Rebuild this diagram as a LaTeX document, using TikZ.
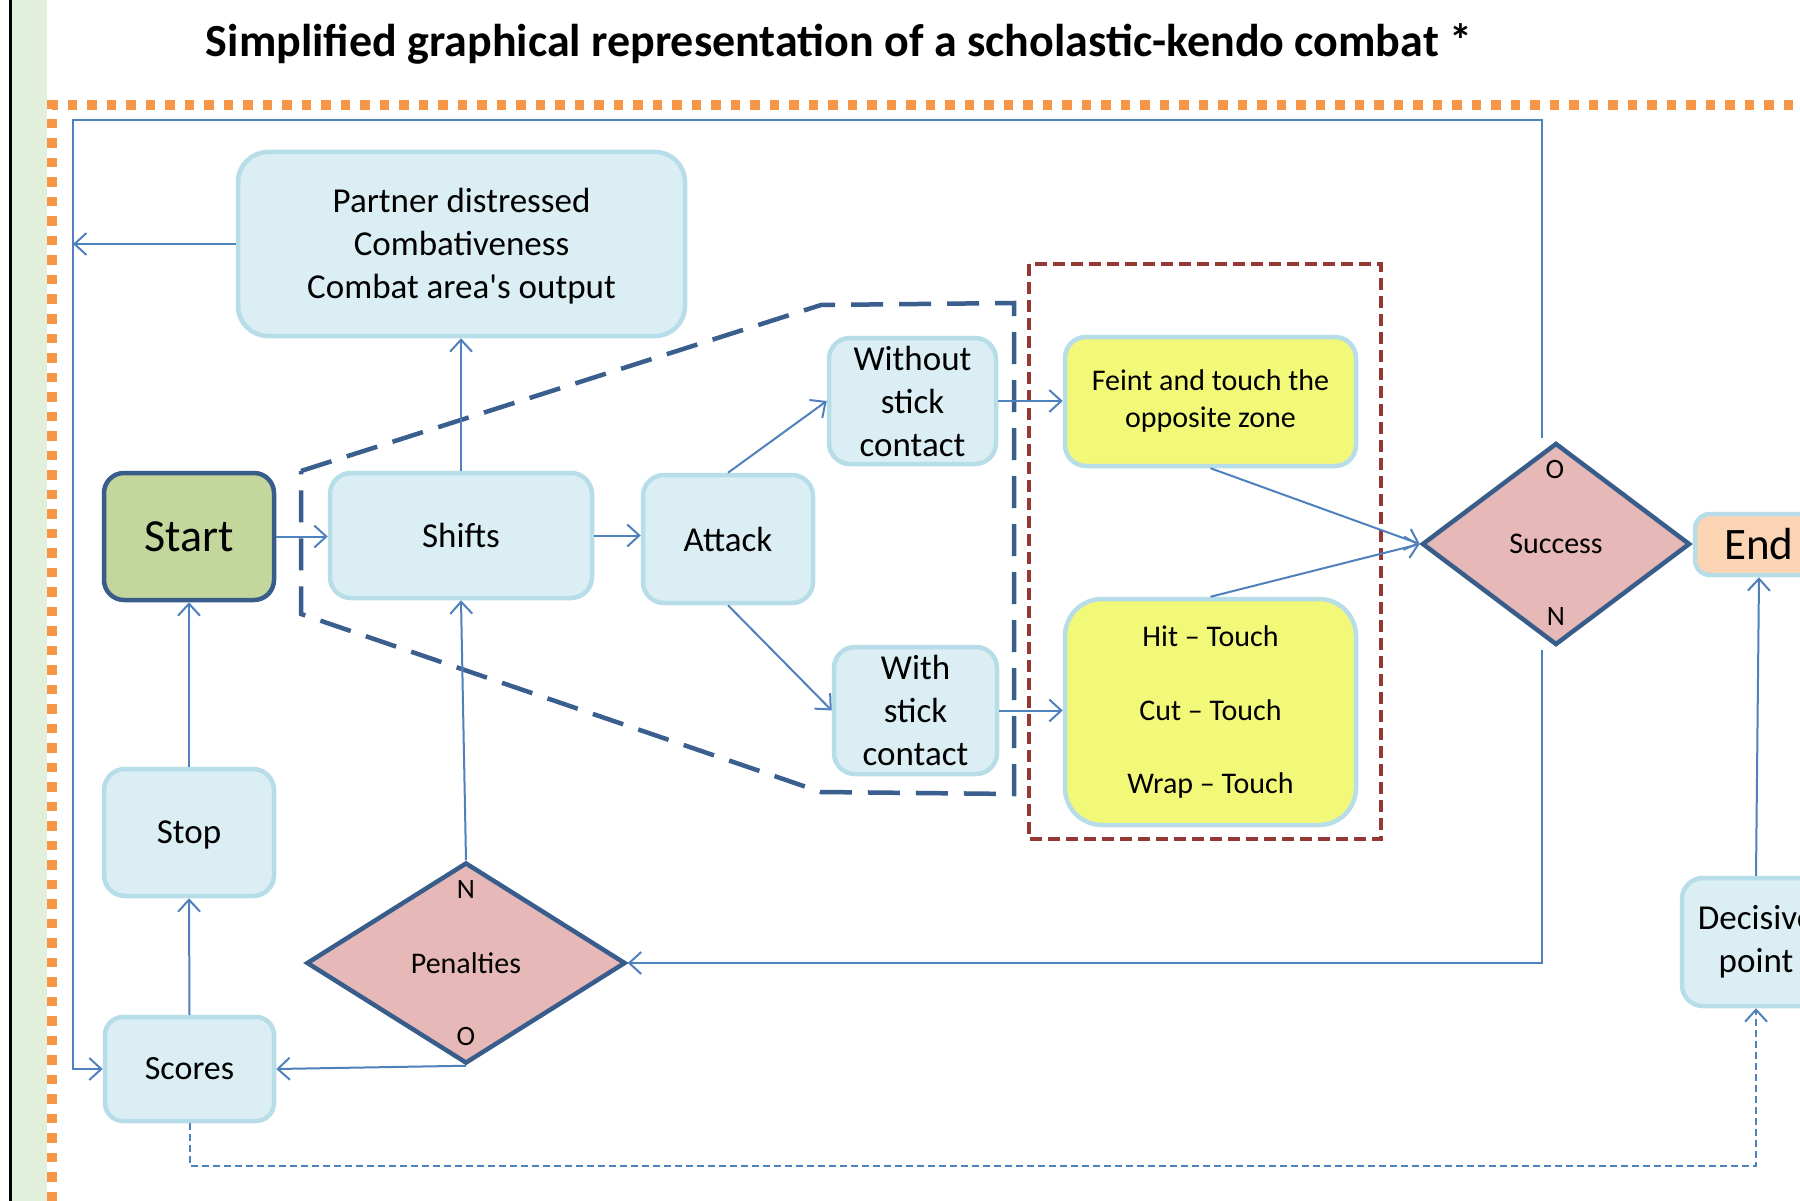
\documentclass[tikz,border=0pt]{standalone}
\usepackage{fontspec}
\setmainfont{Carlito}
\newfontfamily\apofont{Carlito}
\usetikzlibrary{arrows.meta,shapes.geometric}
\definecolor{boxfill}{HTML}{DAEEF3}
\definecolor{boxline}{HTML}{B7DDE8}
\definecolor{darkline}{HTML}{385D8A}
\definecolor{startfill}{HTML}{C3D69B}
\definecolor{yell}{HTML}{F2F978}
\definecolor{pinkfill}{HTML}{E6B9B8}
\definecolor{peach}{HTML}{FBD4B4}
\definecolor{conn}{HTML}{4F81BD}
\definecolor{stripe}{HTML}{E2EFDA}
\definecolor{orng}{HTML}{F79646}
\definecolor{darkred}{HTML}{953735}
\definecolor{polyblue}{HTML}{3A5F8E}
\newcommand\fsz[2]{\fontsize{#1}{#2}\selectfont}
\begin{document}
\begin{tikzpicture}[x=1pt,y=-1pt,
  box/.style={draw=boxline, fill=boxfill, line width=4.5pt, rounded corners=#1, inner sep=0pt, align=center, font=\fsz{35}{43}},
  box/.default=21pt,
  dia/.style={diamond, draw=darkline, fill=pinkfill, line width=4.5pt, inner sep=0pt, font=\fsz{30}{36}},
  lab/.style={inner sep=0pt, font=\fsz{28}{34}},
  arr/.style={draw=conn, line width=2pt, -{Straight Barb[length=12pt,width=22pt]}},
  dasharr/.style={arr, dash pattern=on 7pt off 4pt},
  ]
\useasboundingbox (0,0) rectangle (1800,1201);
\clip (0,0) rectangle (1800,1201);
\fill[white] (0,0) rectangle (1800,1201);
% left margin decorations
\fill[stripe] (12,0) rectangle (47,1201);
\draw[line width=3pt] (10.5,0) -- (10.5,1201);
\draw[orng, line width=9.5pt, dash pattern=on 9.5pt off 10pt] (52,1201) -- (52,105) -- (1800,105);
% title
\node[anchor=base, inner sep=0pt, font=\fsz{46}{55}\bfseries] (title) at (839,57) {Simplified graphical representation of a scholastic-kendo combat *};
% grouping frames
\draw[polyblue, line width=4.5pt, dash pattern=on 32pt off 16pt] (301,471) -- (821,305) -- (1014,303) -- (1014,794) -- (821,792) -- (301,614) -- cycle;
\draw[darkred, line width=4.5pt, dash pattern=on 12pt off 6pt] (1029,264) rectangle (1381,839);
% nodes
\node[box=30pt, minimum width=447pt, minimum height=184pt] (partner) at (461.5,244) {\rule{0pt}{28pt}Partner distressed\\Combativeness\\Combat area{\apofont'}s output};
\node[box=20pt, draw=darkline, fill=startfill, minimum width=170pt, minimum height=127pt, font=\fsz{46}{55}] (start) at (189,536.5) {Start};
\node[box, minimum width=262pt, minimum height=125pt] (shifts) at (461,535.5) {Shifts};
\node[box, minimum width=170pt, minimum height=128pt] (attack) at (728,539) {Attack};
\node[box, minimum width=167pt, minimum height=126pt] (without) at (912.5,401) {Without\\stick\\contact};
\node[box, minimum width=163pt, minimum height=127pt] (with) at (915.5,710.5) {With\\stick\\contact};
\node[box, fill=yell, minimum width=291pt, minimum height=129pt, font=\fsz{30}{37}] (feint) at (1210.5,401.5) {Feint and touch the\\opposite zone};
\node[box=37pt, fill=yell, minimum width=291pt, minimum height=226pt, font=\fsz{30}{73.5}] (hit) at (1210.5,712) {Hit – Touch\\Cut – Touch\\Wrap – Touch};
\node[dia, minimum width=268pt, minimum height=202pt] (success) at (1556,544) {Success};
\node[lab] (sO) at (1555,470) {O};
\node[lab] (sN) at (1556,617) {N};
\node[box=15pt, fill=peach, minimum width=128pt, minimum height=61pt, font=\fsz{45}{54}] (end) at (1759,544.5) {End};
\node[box, minimum width=148pt, minimum height=128pt] (decisive) at (1756,942) {Decisive\\point};
\node[box, minimum width=170pt, minimum height=127pt] (stop) at (189,832.5) {\rule{0pt}{28pt}Stop};
\node[box=18pt, minimum width=169pt, minimum height=104pt, font=\fsz{34}{40}] (scores) at (189.5,1069) {Scores};
\node[dia, minimum width=319pt, minimum height=201pt] (penalties) at (466,963) {Penalties};
\node[lab] (pN) at (466,890) {N};
\node[lab] (pO) at (466,1037) {O};
% helper coordinates
\coordinate (tl) at (73,120);
\coordinate (tr) at (1542,120);
\coordinate (sTop) at (1542,438);
\coordinate (sBot) at (1542,650);
\coordinate (dbot) at (1000,1166);
% connectors
\draw[arr] (start.east) -- (start.east -| shifts.west);
\draw[arr] (shifts.north) -- (shifts.north |- partner.south);
\draw[arr] (shifts.east) -- (shifts.east -| attack.west);
\draw[arr] (attack.north) -- (without.west);
\draw[arr] (attack.south) -- (with.west);
\draw[arr] (without.east) -- (without.east -| feint.west);
\draw[arr] (with.east) -- (with.east -| hit.west);
\draw[arr] (feint.south) -- (success.west);
\draw[arr] (hit.north) -- (success.west);
\draw[arr] (sTop) -- (tr) -- (tl) |- (scores.west);
\draw[arr] (partner.west) -- (partner.west -| tl);
\draw[arr] (sBot) |- (penalties.east);
\draw[arr] (penalties.north) -- (shifts.south);
\draw[arr] (penalties.south) -- (scores.east);
\draw[arr] (scores.north) -- (stop.south);
\draw[arr] (stop.north) -- (start.south);
\draw[arr] (decisive.north) -- (end.south);
\draw[dasharr] (scores.south) |- (dbot) -| (decisive.south);
\end{tikzpicture}
\end{document}
